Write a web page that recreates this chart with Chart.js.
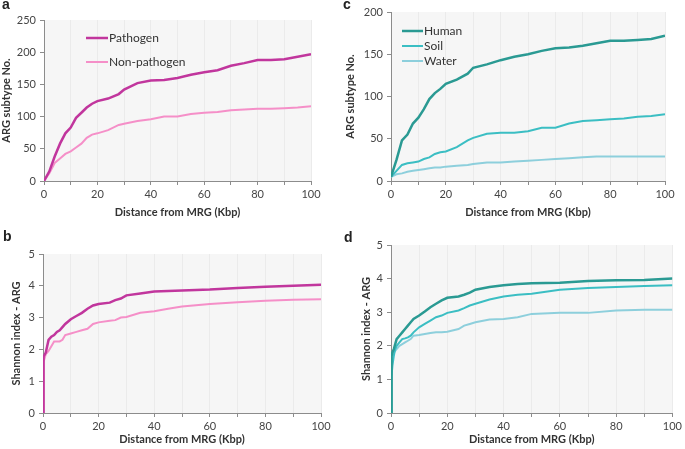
<!DOCTYPE html>
<html lang="en">
<head>
  <meta charset="UTF-8">
  <title>ARG subtypes vs distance from MRG</title>
  <script src="https://cdn.jsdelivr.net/npm/chart.js"></script>
  <style>
    body { margin: 0; background: #fff; }
    #wrap { position: relative; width: 685px; height: 449px; overflow: hidden; }
    .panel { position: absolute; }
    .tag { position: absolute; font: bold 14px Arial, sans-serif; color: #222; }
  </style>
</head>
<body>
<div id="wrap">
  <div class="panel" style="left:0;top:0;width:340px;height:222px"><canvas id="chartA"></canvas></div>
  <div class="panel" style="left:340px;top:0;width:345px;height:222px"><canvas id="chartC"></canvas></div>
  <div class="panel" style="left:0;top:222px;width:340px;height:227px"><canvas id="chartB"></canvas></div>
  <div class="panel" style="left:340px;top:222px;width:345px;height:227px"><canvas id="chartD"></canvas></div>
  <div class="tag" style="left:2px;top:-4px">a</div>
  <div class="tag" style="left:343px;top:-4px">c</div>
  <div class="tag" style="left:3px;top:228px">b</div>
  <div class="tag" style="left:344px;top:229px">d</div>
</div>

<script>
  // distance from MRG (Kbp)
  const distCount = [0, 2, 4, 6, 8, 10, 12, 14, 16, 18, 20, 24, 28, 30, 35, 40, 45, 50, 55, 60, 65, 70, 75, 80, 85, 90, 95, 100];
  const distShannon = [0, 0.2, 0.5, 1, 1.5, 2, 3, 4, 5, 6, 7, 8, 10, 12, 14, 16, 18, 20, 24, 26, 28, 30, 35, 40, 45, 50, 60, 70, 80, 90, 100];

  // a: ARG subtype No.
  const pathogenCount    = [0, 15, 38, 58, 74, 83, 98, 106, 114, 120, 124, 128, 135, 142, 152, 156, 157, 160, 165, 169, 172, 179, 183, 188, 188, 189, 193, 197];
  const nonPathogenCount = [0, 12, 28, 35, 42, 46, 52, 58, 67, 72, 74, 79, 87, 89, 93, 96, 100, 100, 104, 106, 107, 110, 111, 112, 112, 113, 114, 116];

  // c: ARG subtype No.
  const humanCount = [5, 25, 48, 55, 68, 75, 85, 97, 104, 109, 115, 120, 127, 134, 138, 143, 147, 150, 154, 157, 158, 160, 163, 166, 166, 167, 168, 172];
  const soilCount  = [5, 12, 19, 21, 22, 23, 26, 28, 32, 34, 35, 40, 48, 51, 56, 57, 57, 59, 63, 63, 68, 71, 72, 73, 74, 76, 77, 79];
  const waterCount = [5, 8, 9, 11, 12, 13, 14, 15, 16, 16, 17, 18, 19, 20, 22, 22, 23, 24, 25, 26, 27, 28, 29, 29, 29, 29, 29, 29];

  // b: Shannon index
  const pathogenShannon    = [0, 1.78, 1.82, 1.9, 2.1, 2.3, 2.4, 2.45, 2.55, 2.6, 2.7, 2.8, 2.95, 3.05, 3.15, 3.28, 3.38, 3.43, 3.47, 3.55, 3.6, 3.7, 3.76, 3.82, 3.84, 3.85, 3.88, 3.93, 3.97, 4.0, 4.03];
  const nonPathogenShannon = [0, 1.6, 1.7, 1.85, 1.9, 1.95, 2.1, 2.25, 2.25, 2.25, 2.3, 2.45, 2.5, 2.55, 2.6, 2.65, 2.8, 2.85, 2.9, 2.92, 3.0, 3.02, 3.15, 3.2, 3.28, 3.35, 3.43, 3.48, 3.53, 3.56, 3.58];

  // d: Shannon index
  const humanShannon = [0, 1.7, 1.8, 1.9, 2.05, 2.2, 2.3, 2.4, 2.5, 2.6, 2.7, 2.8, 2.9, 3.02, 3.15, 3.25, 3.35, 3.43, 3.47, 3.52, 3.58, 3.67, 3.75, 3.8, 3.84, 3.86, 3.88, 3.93, 3.95, 3.96, 4.0];
  const soilShannon  = [0, 1.1, 1.4, 1.7, 1.9, 2.0, 2.1, 2.2, 2.22, 2.25, 2.3, 2.4, 2.55, 2.65, 2.75, 2.85, 2.9, 2.98, 3.05, 3.12, 3.2, 3.25, 3.38, 3.47, 3.52, 3.55, 3.67, 3.72, 3.75, 3.78, 3.8];
  const waterShannon = [0, 1.3, 1.6, 1.8, 1.85, 1.9, 2.0, 2.05, 2.1, 2.15, 2.2, 2.3, 2.32, 2.35, 2.38, 2.4, 2.4, 2.42, 2.5, 2.6, 2.65, 2.7, 2.78, 2.8, 2.85, 2.95, 2.98, 2.98, 3.05, 3.07, 3.07];

  const FONT = 'Lato, "Open Sans", sans-serif';
  const colors = {
    pathogen: '#c1369d', nonPathogen: '#f58fc8',
    human: '#2a9a93', soil: '#3bbec3', water: '#8dcfdc'
  };

  const pts = (xs, ys) => xs.map((x, i) => ({ x: x, y: ys[i] }));

  function series(label, xs, ys, color, width) {
    return { label: label, data: pts(xs, ys), borderColor: color, backgroundColor: color,
             borderWidth: width, pointRadius: 0, tension: 0, fill: false };
  }

  // grey plot background
  const plotBg = {
    id: 'plotBg',
    beforeDraw(chart) {
      const a = chart.chartArea, ctx = chart.ctx;
      ctx.save();
      ctx.fillStyle = '#f6f6f6';
      ctx.fillRect(a.left, a.top, a.right - a.left, a.bottom - a.top);
      ctx.restore();
    }
  };

  // legend drawn inside the plot area
  const insideLegend = {
    id: 'insideLegend',
    afterDatasetsDraw(chart, args, opts) {
      if (!opts || !opts.show) return;
      const a = chart.chartArea, ctx = chart.ctx;
      ctx.save();
      ctx.font = '12px ' + FONT;
      ctx.textBaseline = 'middle';
      chart.data.datasets.forEach((ds, i) => {
        const y = a.top + opts.y + i * opts.gap;
        const x = a.left + opts.x;
        ctx.strokeStyle = ds.borderColor;
        ctx.lineWidth = ds.borderWidth;
        ctx.beginPath();
        ctx.moveTo(x, y);
        ctx.lineTo(x + opts.len, y);
        ctx.stroke();
        ctx.fillStyle = '#333';
        ctx.fillText(ds.label, x + opts.len + 1, y);
      });
      ctx.restore();
    }
  };

  function makeChart(id, datasets, yMax, yStep, yTitle, box, legend) {
    return new Chart(document.getElementById(id), {
      type: 'line',
      data: { datasets: datasets },
      options: {
        responsive: true,
        maintainAspectRatio: false,
        animation: false,
        layout: { padding: { left: 0, top: box.top, right: box.right, bottom: 0 } },
        plugins: {
          legend: { display: false },
          tooltip: { enabled: false },
          insideLegend: legend
        },
        scales: {
          x: {
            type: 'linear', min: 0, max: 100,
            afterFit: s => { s.height = box.xh; },
            border: { color: '#8c8c8c' },
            grid: { color: '#ebebeb', tickColor: '#8c8c8c', tickLength: 4 },
            ticks: {
              stepSize: 10, padding: 3, maxRotation: 0, autoSkip: false,
              color: '#454545', font: { family: FONT, size: 11 },
              callback: v => (v % 20 === 0 ? v : '')
            },
            title: { display: true, text: 'Distance from MRG (Kbp)', color: '#333',
                     font: { family: FONT, size: 11, weight: 'bold' }, padding: { top: 0, bottom: 3 } }
          },
          y: {
            min: 0, max: yMax,
            afterFit: s => { s.width = box.yw; },
            border: { color: '#8c8c8c' },
            grid: { display: true, color: 'rgba(0,0,0,0)', tickColor: '#8c8c8c', tickLength: 4 },
            ticks: { stepSize: yStep, padding: 4, color: '#454545', font: { family: FONT, size: 11 } },
            title: { display: true, text: yTitle, color: '#333',
                     font: { family: FONT, size: 11, weight: 'bold' }, padding: { top: box.tpad, bottom: 0 } }
          }
        }
      },
      plugins: [plotBg, insideLegend]
    });
  }

  makeChart('chartA', [
    series('Pathogen', distCount, pathogenCount, colors.pathogen, 2.5),
    series('Non-pathogen', distCount, nonPathogenCount, colors.nonPathogen, 2)
  ], 250, 50, 'ARG subtype No.', { top: 20, right: 29, xh: 41, yw: 44, tpad: 0 },
     { show: true, x: 42, y: 18, gap: 24, len: 22 });

  makeChart('chartC', [
    series('Human', distCount, humanCount, colors.human, 2.5),
    series('Soil', distCount, soilCount, colors.soil, 2),
    series('Water', distCount, waterCount, colors.water, 2)
  ], 200, 50, 'ARG subtype No.', { top: 12, right: 20, xh: 41, yw: 51, tpad: 4 },
     { show: true, x: 11, y: 19, gap: 15, len: 21 });

  makeChart('chartB', [
    series('Pathogen', distShannon, pathogenShannon, colors.pathogen, 2.5),
    series('Non-pathogen', distShannon, nonPathogenShannon, colors.nonPathogen, 2)
  ], 5, 1, 'Shannon index - ARG', { top: 32, right: 19, xh: 36, yw: 43, tpad: 10 }, { show: false });

  makeChart('chartD', [
    series('Human', distShannon, humanShannon, colors.human, 2.5),
    series('Soil', distShannon, soilShannon, colors.soil, 2),
    series('Water', distShannon, waterShannon, colors.water, 2)
  ], 5, 1, 'Shannon index - ARG', { top: 23, right: 10, xh: 36, yw: 51, tpad: 20 }, { show: false });
</script>
</body>
</html>
